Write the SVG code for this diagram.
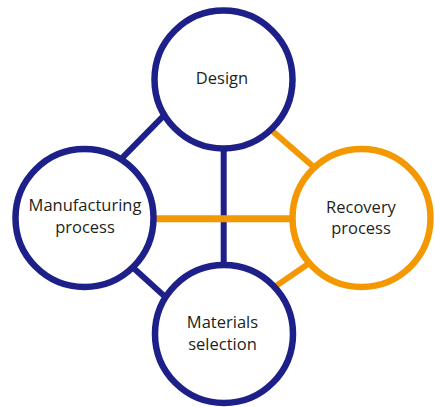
<svg xmlns="http://www.w3.org/2000/svg" width="435" height="407" viewBox="0 0 435 407">
  <style>
    .blue { stroke: #1d2088; }
    .orange { stroke: #f39800; }
    .conn { stroke-width: 6; fill: none; }
    .node { fill: #ffffff; stroke-width: 6.5; }
    .label { font-family: "Open Sans", "Liberation Sans", sans-serif; font-size: 16.5px; fill: #231f20; text-anchor: middle; }
  </style>
  <rect width="435" height="407" fill="#ffffff"/>
  <g id="connectors">
    <line class="conn blue" x1="180" y1="99.1" x2="105" y2="175.3"/>
    <line class="conn blue" x1="223.7" y1="100" x2="223.7" y2="310"/>
    <line class="conn blue" x1="115" y1="251.2" x2="190" y2="319.4"/>
    <line class="conn orange" x1="250" y1="111.4" x2="335" y2="185.4"/>
    <line class="conn orange" x1="100" y1="218.8" x2="345" y2="218.8" style="stroke-width:7"/>
    <line class="conn orange" x1="330" y1="249" x2="255" y2="300.4"/>
  </g>
  <g id="design">
    <circle class="node blue" cx="223.5" cy="79.5" r="69"/>
    <text class="label" x="222" y="83.5">Design</text>
  </g>
  <g id="manufacturing">
    <circle class="node blue" cx="84.5" cy="218" r="69"/>
    <text class="label" x="85" y="210.5">Manufacturing</text>
    <text class="label" x="85" y="232.5">process</text>
  </g>
  <g id="recovery">
    <circle class="node orange" cx="361.5" cy="218" r="69"/>
    <text class="label" x="361" y="212.5">Recovery</text>
    <text class="label" x="361" y="234">process</text>
  </g>
  <g id="materials">
    <circle class="node blue" cx="224" cy="334" r="69"/>
    <text class="label" x="222.5" y="327.5">Materials</text>
    <text class="label" x="222.5" y="350">selection</text>
  </g>
</svg>
